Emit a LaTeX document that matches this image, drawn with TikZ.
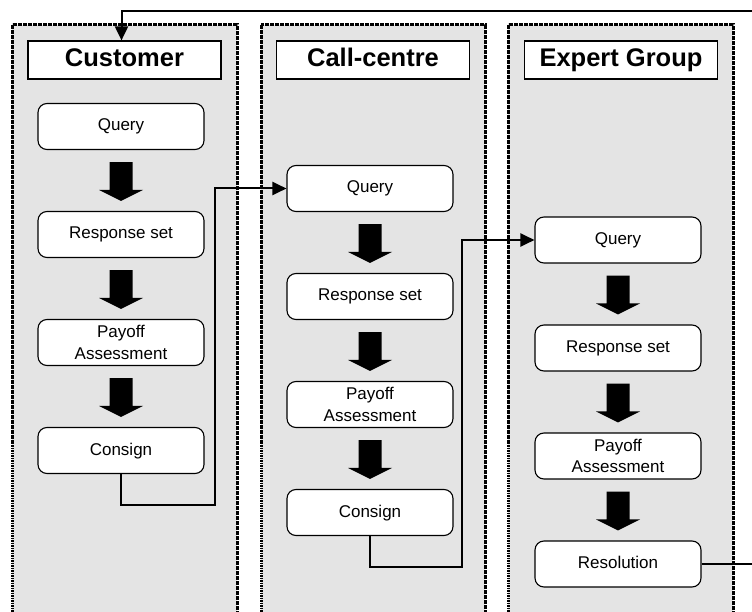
\documentclass[tikz,border=0pt]{standalone}
\usepackage{fontspec}
\setmainfont{Liberation Sans}
\usetikzlibrary{arrows.meta,calc}
\definecolor{lanegray}{HTML}{E4E4E4}
\newcommand\blockarrow[2]{\fill[black] ($(#1.south)+(-11.5,12)$) -- ($(#1.south)+(11.5,12)$) -- ($(#2.north)+(11.5,-21)$) -- ($(#2.north)+(22,-21)$) -- ($(#2.north)+(0,-10)$) -- ($(#2.north)+(-22,-21)$) -- ($(#2.north)+(-11.5,-21)$) -- cycle;}
\begin{document}
\begin{tikzpicture}[x=1pt,y=-1pt,
 lane/.style={fill=lanegray,draw=black,line width=3pt,dash pattern=on 1.8pt off 0.7pt},
 hdr/.style={draw=black,fill=white,line width=1.2pt,minimum width=193pt,minimum height=38pt,font=\fontsize{25.5}{30}\selectfont\bfseries,inner sep=0pt,text height=18.5pt,text depth=5pt},
 stepbox/.style={draw=black,fill=white,line width=1.1pt,rounded corners=9pt,minimum width=166pt,minimum height=46pt,inner sep=0pt,align=center,font=\fontsize{17}{21.5}\selectfont},
 one/.style={text height=12.5pt,text depth=3.5pt},
 conn/.style={line width=2pt,-{Triangle[length=14pt,width=13pt]}}]
\useasboundingbox (0,0) rectangle (752,612);
% lanes
\path[lane] (12,25) rectangle (237,630);
\path[lane] (261,25) rectangle (485,630);
\path[lane] (508,25) rectangle (733,630);
% headers
\node[hdr] (h1) at (124.5,60) {Customer};
\node[hdr] (h2) at (373,60) {Call-centre};
\node[hdr] (h3) at (621,60) {Expert Group};
% lane 1
\node[stepbox,one] (q1) at (121,126.5) {Query};
\node[stepbox,one] (r1) at (121,234.5) {Response set};
\node[stepbox] (p1) at (121,342.5) {Payoff\\Assessment};
\node[stepbox,one] (c1) at (121,450.5) {Consign};
% lane 2
\node[stepbox,one] (q2) at (370,188.5) {Query};
\node[stepbox,one] (r2) at (370,296.5) {Response set};
\node[stepbox] (p2) at (370,404.5) {Payoff\\Assessment};
\node[stepbox,one] (c2) at (370,512.5) {Consign};
% lane 3
\node[stepbox,one] (q3) at (618,240) {Query};
\node[stepbox,one] (r3) at (618,348) {Response set};
\node[stepbox] (p3) at (618,456) {Payoff\\Assessment};
\node[stepbox,one] (s3) at (618,564) {Resolution};
% block arrows
\blockarrow{q1}{r1}\blockarrow{r1}{p1}\blockarrow{p1}{c1}
\blockarrow{q2}{r2}\blockarrow{r2}{p2}\blockarrow{p2}{c2}
\blockarrow{q3}{r3}\blockarrow{r3}{p3}\blockarrow{p3}{s3}
% connectors
\coordinate (j1) at (215,505);
\coordinate (j2) at (462,567);
\coordinate (top) at (775,11);
\draw[conn] (c1.south) |- (j1) |- (q2.west);
\draw[conn] (c2.south) |- (j2) |- (q3.west);
\draw[conn] (s3.east) -| (top) -| ([xshift=-3pt]h1.north);
\end{tikzpicture}
\end{document}
